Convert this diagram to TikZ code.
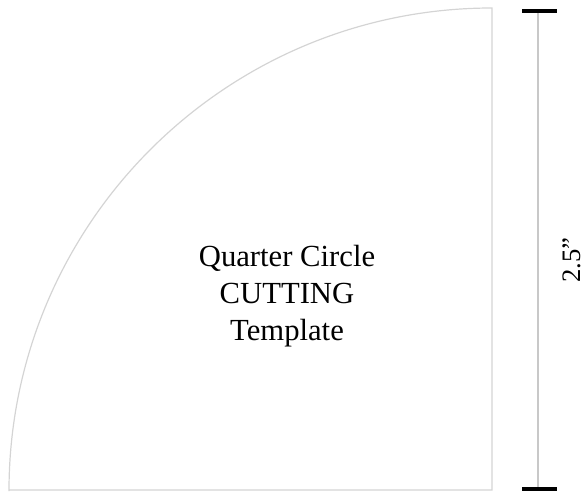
\documentclass[tikz,border=0pt]{standalone}
\usepackage{fontspec}
\setmainfont{Liberation Serif}
\usetikzlibrary{positioning}
\definecolor{edgegray}{RGB}{212,212,212}
\definecolor{dimgray}{RGB}{200,200,200}
\tikzset{edge/.style={draw=edgegray,line width=0.9pt},
        dimline/.style={draw=dimgray,line width=0.9pt},
        tick/.style={draw=black,line width=3pt},
        title/.style={align=center,font=\fontsize{23}{27.75}\selectfont,inner sep=0pt}}

\begin{document}
\begin{tikzpicture}[x=0.75pt,y=-0.75pt]
  \useasboundingbox (0,0) rectangle (587,493);
  \coordinate (corner) at (492,490);
  \coordinate (top) at (492,8);
  \coordinate (left) at (9,490);
  % template shape
  \draw[edge] (left) -- (corner) -- (top) arc[start angle=270,end angle=180,radius=483];
  % dimension
  \coordinate (dimtop) at (538,11);
  \coordinate (dimbot) at (538,489);
  \draw[dimline] (dimtop) -- (dimbot);
  \draw[tick] ([xshift=-12]dimtop) -- ([xshift=14]dimtop);
  \draw[tick] ([xshift=-12]dimbot) -- ([xshift=14]dimbot);
  \node[rotate=90,font=\fontsize{20}{22}\selectfont] (size) at (572,260) {2.5”};
  % label
  \node[title,anchor=base] (name) at (287,340) {Quarter Circle\\CUTTING\\Template};
\end{tikzpicture}
\end{document}
